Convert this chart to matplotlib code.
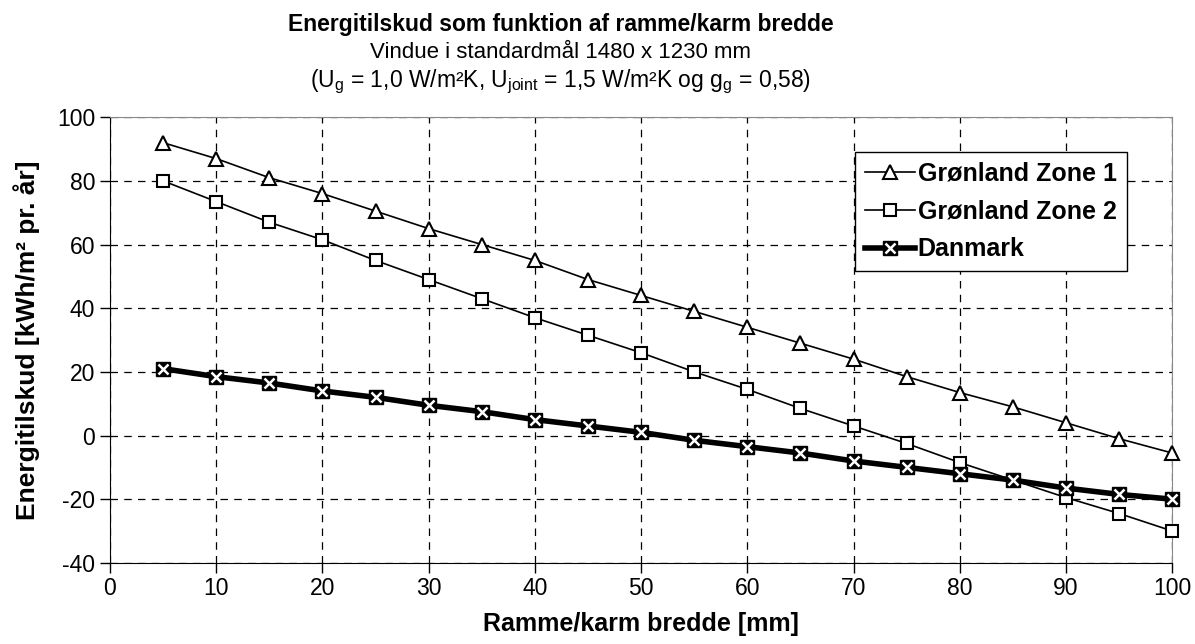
import numpy as np
import matplotlib
matplotlib.use("Agg")
import matplotlib.pyplot as plt

# Ramme/karm bredde [mm]
bredde = [5, 10, 15, 20, 25, 30, 35, 40, 45, 50, 55, 60, 65, 70, 75, 80, 85, 90, 95, 100]

# Energitilskud [kWh/m2 pr. aar]
zone1 = [92, 87, 81, 76, 70.5, 65, 60, 55, 49, 44, 39, 34, 29, 24, 18.5, 13.5, 9, 4, -1, -5.5]
zone2 = [80, 73.5, 67, 61.5, 55, 49, 43, 37, 31.5, 26, 20, 14.5, 8.5, 3, -2.5, -8.5, -14, -19.5, -24.5, -30]
danmark = [21, 18.5, 16.5, 14, 12, 9.5, 7.5, 5, 3, 1, -1.5, -3.5, -5.5, -8, -10, -12, -14, -16.5, -18.5, -20]

x_ticks = list(range(0, 101, 10))
y_ticks = list(range(-40, 101, 20))

plt.rcParams['font.family'] = ['Liberation Sans', 'DejaVu Sans']
plt.rcParams['mathtext.fontset'] = 'custom'
plt.rcParams['mathtext.rm'] = 'Liberation Sans'
plt.rcParams['axes.unicode_minus'] = False

fig = plt.figure(figsize=(11.95, 6.44), dpi=100)
ax = fig.add_axes([0.092, 0.126, 0.889, 0.692])

l1, = ax.plot(bredde, zone1, color='black', lw=1.2, marker='^', markersize=10,
              markerfacecolor='white', markeredgecolor='black', markeredgewidth=1.5,
              clip_on=False, zorder=3)
l2, = ax.plot(bredde, zone2, color='black', lw=1.2, marker='s', markersize=8,
              markerfacecolor='white', markeredgecolor='black', markeredgewidth=1.5,
              clip_on=False, zorder=3)
l3, = ax.plot(bredde, danmark, color='black', lw=4, marker='s', markersize=10.5,
              markerfacecolor='black', markeredgecolor='black', clip_on=False, zorder=4)
l3x, = ax.plot(bredde, danmark, linestyle='none', marker='x', markersize=7,
               markeredgecolor='white', markeredgewidth=1.8, clip_on=False, zorder=5)

ax.set_xlim(0, 100)
ax.set_ylim(-40, 100)
ax.set_xticks(x_ticks)
ax.set_yticks(y_ticks)
ax.tick_params(axis='both', labelsize=16.5, direction='out', length=7, width=1)
ax.tick_params(axis='x', pad=3)
ax.grid(True, color='black', linestyle=(0, (6, 5)), linewidth=0.9)
ax.set_axisbelow(True)

for side in ['top', 'right']:
    ax.spines[side].set_color('#888888')
ax.spines['left'].set_color('black')
ax.spines['bottom'].set_color('black')

ax.set_xlabel('Ramme/karm bredde [mm]', fontsize=18, fontweight='bold', labelpad=9)
ax.set_ylabel('Energitilskud [kWh/m² pr. år]', fontsize=19, fontweight='bold', labelpad=12)

leg = ax.legend([l1, l2, (l3, l3x)], ['Grønland Zone 1', 'Grønland Zone 2', 'Danmark'],
                loc='upper right', bbox_to_anchor=(0.957, 0.922),
                prop={'weight': 'bold', 'size': 18}, frameon=True, fancybox=False,
                edgecolor='black', framealpha=1, handlelength=2.0, handletextpad=0.1,
                borderpad=0.4, labelspacing=0.55, borderaxespad=0)
leg.get_frame().set_linewidth(1)

fig.text(0.469, 0.962, 'Energitilskud som funktion af ramme/karm bredde',
         ha='center', va='center', fontsize=16.5, fontweight='bold')
fig.text(0.469, 0.919, 'Vindue i standardmål 1480 x 1230 mm',
         ha='center', va='center', fontsize=16)
fig.text(0.469, 0.873,
         r'(U$_\mathregular{g}$ = 1,0 W/m²K, U$_\mathregular{joint}$ = 1,5 W/m²K og g$_\mathregular{g}$ = 0,58)',
         ha='center', va='center', fontsize=16.5)

fig.savefig('out.png', dpi=100)
